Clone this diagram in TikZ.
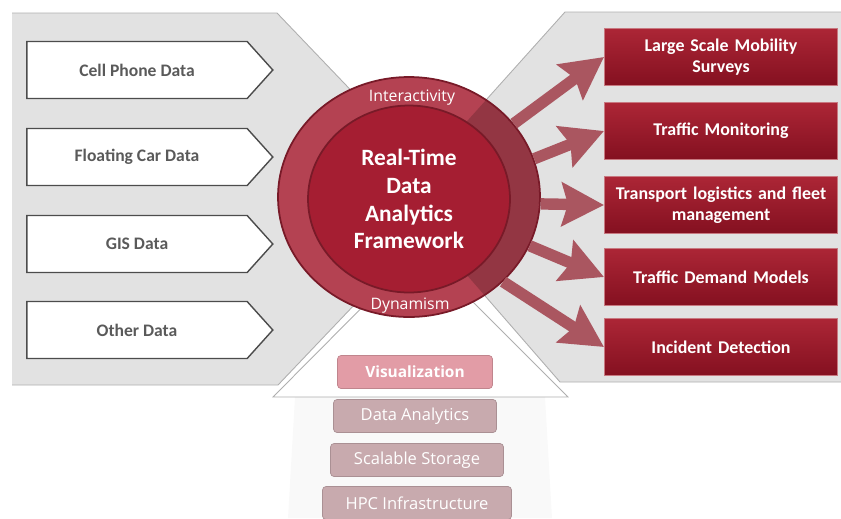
\documentclass[tikz,border=0pt]{standalone}
\usepackage{fontspec}
\setmainfont{Carlito}
\newfontfamily\layerfont{Open Sans}
\usepackage{tikz}
\usetikzlibrary{shapes, shapes.geometric, shapes.symbols, arrows.meta}

\definecolor{panelgray}{RGB}{226,226,226}
\definecolor{edgegray}{RGB}{175,175,175}
\definecolor{ringred}{RGB}{180,66,82}
\definecolor{ringedge}{RGB}{120,26,40}
\definecolor{corered}{RGB}{165,30,50}
\definecolor{boxtop}{RGB}{172,38,54}
\definecolor{boxbot}{RGB}{132,16,32}
\definecolor{boxedge}{RGB}{200,120,128}
\definecolor{arrowred}{RGB}{170,86,96}
\definecolor{layerpink}{RGB}{226,156,166}
\definecolor{layermauve}{RGB}{200,170,174}
\definecolor{inputtext}{RGB}{90,90,90}

\begin{document}
\begin{tikzpicture}[x=0.02cm, y=-0.02cm,
  inputbox/.style={shape=signal, signal to=east, signal pointer angle=96,
    draw=black!70, line width=0.8pt, fill=white, inner sep=0pt,
    minimum width=4.92cm, minimum height=1.14cm,
    text=inputtext, font=\bfseries\fontsize{10}{12}\selectfont},
  outbox/.style={rectangle, draw=boxedge, line width=0.6pt,
    top color=boxtop, bottom color=boxbot, inner sep=0pt,
    minimum width=4.66cm, minimum height=1.14cm, text width=4.56cm, align=center,
    text=white, font=\bfseries\fontsize{10.2}{12.2}\selectfont},
  layerbox/.style={rectangle, rounded corners=2pt, fill=layermauve,
    draw=layermauve!85!black, line width=0.4pt, inner sep=0pt, minimum height=0.66cm,
    text=white, font=\layerfont\fontsize{9.4}{10}\selectfont},
  outarrow/.style={draw=arrowred, line width=6.5pt,
    -{Stealth[length=0.84cm, width=0.86cm, inset=0.12cm]}}]

  \useasboundingbox (0,0) rectangle (841,518);

  % panels
  \fill[gray!5] (295,397) -- (545,397) -- (552,518) -- (288,518) -- cycle;
  \filldraw[fill=panelgray, draw=edgegray, line width=0.5pt]
    (12,13) -- (277,13) -- (455,199) -- (278,385) -- (12,385);
  \filldraw[fill=panelgray, draw=edgegray, line width=0.5pt]
    (841,12) -- (565,12) -- (399,197) -- (560,382) -- (841,382);
  \filldraw[fill=white, draw=edgegray, line width=0.5pt]
    (273,397) -- (420,249) -- (568,397) -- cycle;

  % center
  \node[ellipse, fill=ringred, draw=ringedge, line width=1pt,
    minimum width=5.24cm, minimum height=4.8cm] (ring) at (409,197) {};
  \begin{scope}
    \clip (ring.center) ellipse [x radius=2.6cm, y radius=2.38cm];
    \fill[black, opacity=0.18] (565,12) -- (399,197) -- (560,382) -- (841,382) -- (841,12) -- cycle;
  \end{scope}
  \node[ellipse, fill=corered, draw=ringedge, line width=1pt,
    minimum width=4.04cm, minimum height=3.74cm, align=center, text=white,
    font=\bfseries\fontsize{13.3}{15.8}\selectfont] (core) at (409,199)
    {Real-Time\\Data\\Analytics\\Framework};
  \node[text=white, font=\layerfont\fontsize{9}{10}\selectfont] (top) at (412,98) {Interactivity};
  \node[text=white, font=\layerfont\fontsize{9}{10}\selectfont] (bottom) at (410,306) {Dynamism};

  % inputs
  \node[inputbox] (cell) at (137,70) {Cell Phone Data};
  \node[inputbox] (fcd) at (137,157) {Floating Car Data};
  \node[inputbox] (gis) at (137,244) {GIS Data};
  \node[inputbox] (other) at (137,330) {Other Data};

  % outputs
  \node[outbox] (survey) at (721,57) {Large Scale Mobility\\Surveys};
  \node[outbox] (monitor) at (721,131) {Traffic Monitoring};
  \node[outbox] (fleet) at (721,205) {Transport logistics and fleet\\management};
  \node[outbox] (demand) at (721,277) {Traffic Demand Models};
  \node[outbox] (incident) at (721,347) {Incident Detection};

  \draw[outarrow] (ring.35) -- (survey.west);
  \draw[outarrow] (ring.17) -- (monitor.west);
  \draw[outarrow] (ring.-3) -- (fleet.west);
  \draw[outarrow] (ring.-22) -- (demand.west);
  \draw[outarrow] (ring.-42) -- (incident.west);

  % layers
  \node[layerbox, fill=layerpink, draw=layerpink!85!black, minimum width=3.1cm,
    font=\layerfont\bfseries\fontsize{8.8}{10}\selectfont] (vis) at (415,372) {Visualization};
  \node[layerbox, minimum width=3.26cm] (analytics) at (415,416) {Data Analytics};
  \node[layerbox, minimum width=3.46cm] (storage) at (417,460) {Scalable Storage};
  \node[layerbox, minimum width=3.78cm] (hpc) at (417,503) {HPC Infrastructure};
\end{tikzpicture}
\end{document}
